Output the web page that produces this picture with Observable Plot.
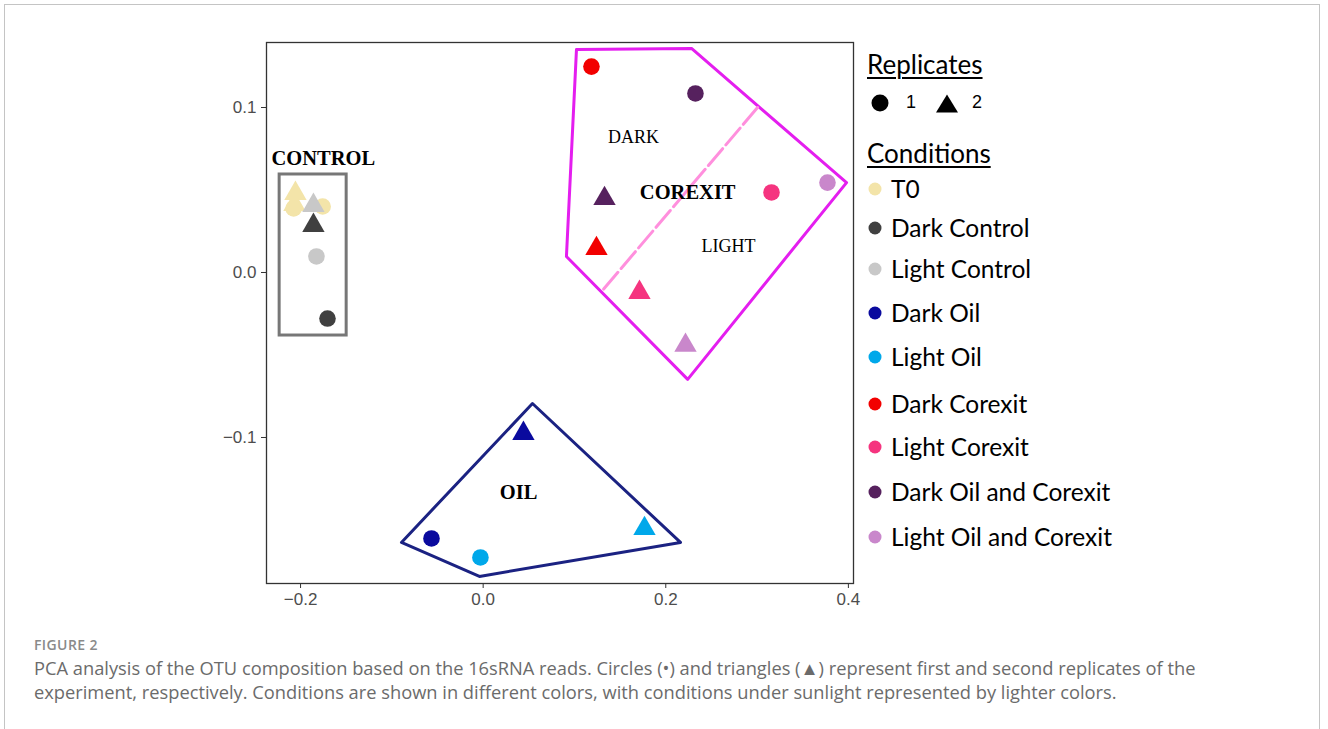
<!DOCTYPE html>
<html><head><meta charset="utf-8">
<script src="https://cdn.jsdelivr.net/npm/d3@7"></script>
<script src="https://cdn.jsdelivr.net/npm/@observablehq/plot@0.6"></script>
<style>
body{margin:0;background:#fff;}
#page{position:relative;width:1328px;height:729px;overflow:hidden;background:#fff;}
#border{position:absolute;left:4px;top:4px;width:1316px;height:780px;border:1px solid #c4c4c4;box-sizing:border-box;}
#chart{position:absolute;left:0;top:0;}
.lg{position:absolute;font-family:Lato,sans-serif;color:#000;white-space:nowrap;}
.hdr{font-size:26px;text-decoration:underline;text-underline-offset:3px;text-decoration-thickness:1.5px;line-height:30px;}
.item{font-size:24.5px;line-height:30px;}
.rep{font-family:"Liberation Sans",Arial,sans-serif;font-size:18px;line-height:24px;}
#fig{position:absolute;left:34px;top:635px;font-family:"Open Sans",sans-serif;font-size:14px;font-weight:600;color:#8a8a8a;letter-spacing:0.4px;}
#cap{position:absolute;left:34px;top:656px;width:1230px;font-family:"Open Sans",sans-serif;font-size:18.3px;line-height:24px;color:#6b6b6b;}
</style></head>
<body>
<div id="page">
<div id="border"></div>
<div id="chart"></div>
<div id="legend"></div>
<div id="fig">FIGURE 2</div>
<div id="cap">PCA analysis of the OTU composition based on the 16sRNA reads. Circles (•) and triangles (▲) represent first and second replicates of the experiment, respectively. Conditions are shown in different colors, with conditions under sunlight represented by lighter colors.</div>
</div>
<script>
// ---- data ----
const conditions = ["T0","Dark Control","Light Control","Dark Oil","Light Oil","Dark Corexit","Light Corexit","Dark Oil and Corexit","Light Oil and Corexit"];
const conditionColors = ["#F3E4A9","#404040","#C8C8C8","#0A0A9E","#00A8EA","#F20000","#F5347F","#56215E","#C987CB"];
const replicates = [1, 2];

const ptCondition = ["T0","T0","T0","T0","Light Control","Light Control","Dark Control","Dark Control",
  "Dark Oil","Dark Oil","Light Oil","Light Oil",
  "Dark Corexit","Dark Corexit","Light Corexit","Light Corexit",
  "Dark Oil and Corexit","Dark Oil and Corexit","Light Oil and Corexit","Light Oil and Corexit"];
const ptReplicate = [1,1,2,2,2,1,2,1, 2,1,1,2, 1,2,1,2, 1,2,1,2];
const ptPC1 = [-0.2076,-0.1758,-0.2056,-0.2067,-0.1859,-0.1826,-0.1859,-0.1705,
  0.0441,-0.0566,-0.0030,0.1767,
  0.1186,0.1241,0.3158,0.1712,
  0.2325,0.1329,0.3771,0.2216];
const ptPC2 = [0.0388,0.0400,0.0479,0.0412,0.0406,0.0097,0.0285,-0.0279,
  -0.0976,-0.1612,-0.1727,-0.1552,
  0.1248,0.0145,0.0485,-0.0121,
  0.1085,0.0448,0.0545,-0.0442];

const controlBoxPC1 = [-0.2229, -0.1495];
const controlBoxPC2 = [-0.0382, 0.0594];
const corexitHullPC1 = [0.1022, 0.2282, 0.3980, 0.2240, 0.0912];
const corexitHullPC2 = [0.1352, 0.1358, 0.0545, -0.0648, 0.0097];
const corexitSplitPC1 = [0.3005, 0.1307];
const corexitSplitPC2 = [0.1000, -0.0109];
const oilHullPC1 = [0.0540, 0.2161, -0.0041, -0.0895];
const oilHullPC2 = [-0.0794, -0.1636, -0.1842, -0.1636];

const labelText = ["CONTROL","DARK","COREXIT","LIGHT","OIL"];
const labelBold = [true,false,true,false,true];
const labelPC1 = [-0.1750, 0.1646, 0.2240, 0.2687, 0.0387];
const labelPC2 = [0.0691, 0.0818, 0.0485, 0.0158, -0.1333];

const xTicks = [-0.2, 0.0, 0.2, 0.4];
const yTicks = [-0.1, 0.0, 0.1];

// ---- build tables ----
const points = ptCondition.map((c, i) => ({condition: c, replicate: ptReplicate[i], x: ptPC1[i], y: ptPC2[i]}));
const corexitHull = corexitHullPC1.map((x, i) => ({x, y: corexitHullPC2[i]}));
const corexitSplit = corexitSplitPC1.map((x, i) => ({x, y: corexitSplitPC2[i]}));
const oilHull = oilHullPC1.map((x, i) => ({x, y: oilHullPC2[i]}));
const labels = labelText.map((t, i) => ({t, bold: labelBold[i], x: labelPC1[i], y: labelPC2[i]}));

const fmt = d3.format(".1f");
const serif = "'Liberation Serif', 'Times New Roman', serif";

const chart = Plot.plot({
  width: 860, height: 620,
  marginLeft: 266, marginRight: 7, marginTop: 42, marginBottom: 37,
  x: {domain: [-0.2373, 0.4056]},
  y: {domain: [-0.1885, 0.1394]},
  color: {domain: conditions, range: conditionColors},
  symbol: {domain: replicates, range: ["circle", "triangle"]},
  style: {fontFamily: "'Liberation Sans', Arial, sans-serif", fontSize: "17px", background: "transparent", overflow: "visible"},
  marks: [
    Plot.rect([{x1: controlBoxPC1[0], x2: controlBoxPC1[1], y1: controlBoxPC2[0], y2: controlBoxPC2[1]}],
      {x1: "x1", x2: "x2", y1: "y1", y2: "y2", fill: "none", stroke: "#777", strokeWidth: 3}),
    Plot.line(corexitHull, {x: "x", y: "y", curve: "linear-closed", stroke: "#E41EEF", strokeWidth: 3}),
    Plot.line(corexitSplit, {x: "x", y: "y", stroke: "#FF8FDD", strokeWidth: 3, strokeDasharray: "22,5"}),
    Plot.line(oilHull, {x: "x", y: "y", curve: "linear-closed", stroke: "#1B2282", strokeWidth: 3}),
    Plot.dot(points, {x: "x", y: "y", fill: "condition", symbol: "replicate", r: 8.3}),
    Plot.text(labels.filter(d => d.bold), {x: "x", y: "y", text: "t", fontFamily: serif, fontSize: 20.5, fontWeight: "bold", fill: "#000"}),
    Plot.text(labels.filter(d => !d.bold), {x: "x", y: "y", text: "t", fontFamily: serif, fontSize: 18, fill: "#000"}),
    Plot.frame({stroke: "#333", strokeWidth: 1.3}),
    Plot.axisX({ticks: xTicks, tickFormat: fmt, tickSize: 5, tickPadding: 4, stroke: "#333", fill: "#4d4d4d", label: null}),
    Plot.axisY({ticks: yTicks, tickFormat: fmt, tickSize: 5, tickPadding: 5, stroke: "#333", fill: "#4d4d4d", label: null})
  ]
});
document.getElementById("chart").appendChild(chart);

// ---- legend ----
const legend = document.getElementById("legend");
function add(html, left, top, cls) {
  const d = document.createElement("div");
  d.className = "lg " + cls;
  d.style.left = left + "px"; d.style.top = top + "px";
  d.innerHTML = html;
  legend.appendChild(d);
}
add("Replicates", 867, 49, "hdr");
const repShape = {1: '<svg width="20" height="20" style="vertical-align:middle"><circle cx="10" cy="10" r="8.5" fill="#000"/></svg>',
                  2: '<svg width="24" height="20" style="vertical-align:middle"><path d="M12,1.5L23,19.5L1,19.5Z" fill="#000"/></svg>'};
const repLeft = [870, 935];
replicates.forEach((r, i) => {
  add(repShape[r] + '<span style="margin-left:' + (i ? 13 : 16) + 'px">' + r + '</span>', repLeft[i], 90, "rep");
});
add("Conditions", 867, 138, "hdr");
const rowCenters = [189, 228, 269, 313, 357, 404, 447, 492, 537];
conditions.forEach((c, i) => {
  add('<svg width="16" height="16" style="position:absolute;left:0;top:7px"><circle cx="8" cy="8" r="6.5" fill="' + conditionColors[i] + '"/></svg><span style="margin-left:24px">' + c + '</span>', 867, rowCenters[i] - 15, "item");
});
</script>
</body></html>
